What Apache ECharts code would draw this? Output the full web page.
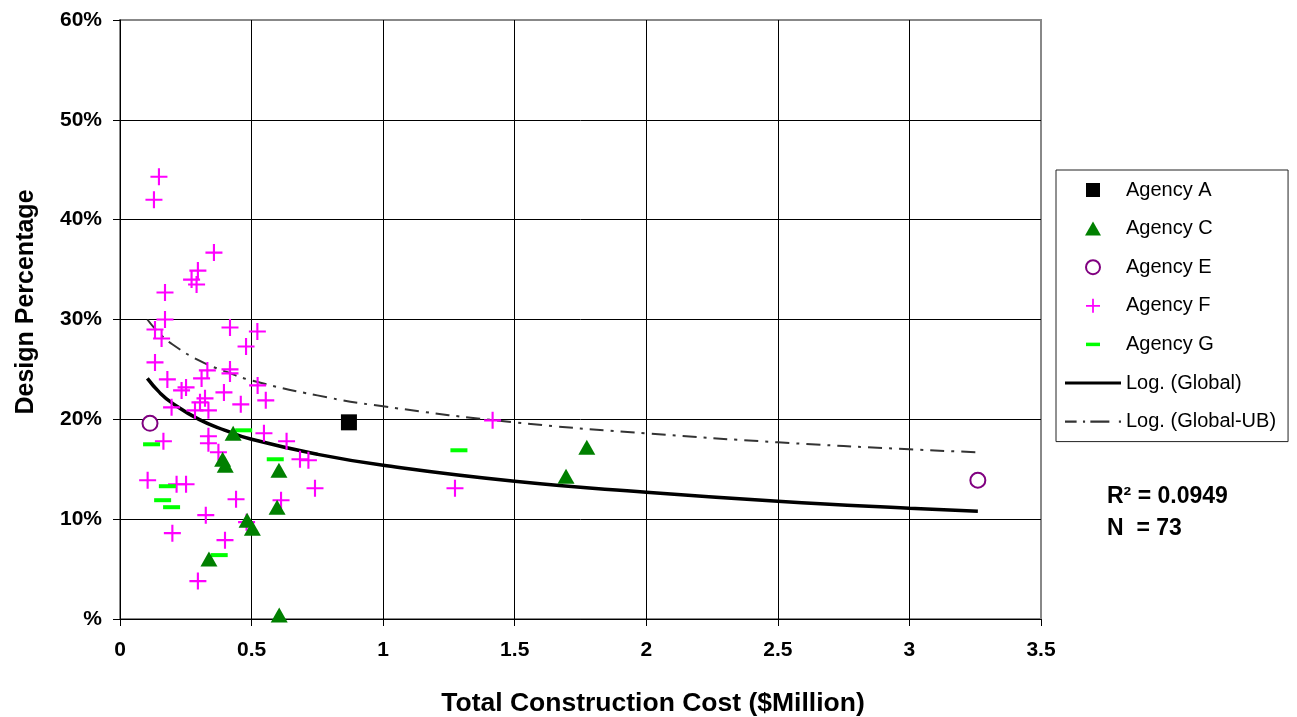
<!DOCTYPE html>
<html>
<head>
<meta charset="utf-8">
<script src="https://cdn.jsdelivr.net/npm/echarts@6/dist/echarts.min.js"></script>
<style>
html,body{margin:0;padding:0;background:#fff;}
#chart{width:1297px;height:717px;}
</style>
</head>
<body>
<div id="chart"></div>
<script>
// ---- data (x: Total Construction Cost $Million, y: Design %) ----
const xTicks = [0, 0.5, 1, 1.5, 2, 2.5, 3, 3.5];
const yTicks = [0, 10, 20, 30, 40, 50, 60];

const agencyA = [[0.87, 19.7]];
const agencyC = [[0.338, 6.0], [0.43, 18.6], [0.39, 16.0], [0.40, 15.4], [0.604, 14.9], [0.597, 11.2],
  [0.483, 9.9], [0.503, 9.1], [0.605, 0.4], [1.695, 14.3], [1.774, 17.2]];
const agencyE = [[0.114, 19.6], [3.26, 13.9]];
const agencyF = [[0.148, 44.3], [0.129, 42.0], [0.357, 36.7], [0.296, 34.9], [0.272, 34.0], [0.291, 33.5],
  [0.171, 32.7], [0.171, 30.0], [0.133, 29.0], [0.158, 28.1], [0.418, 29.2], [0.522, 28.8],
  [0.479, 27.3], [0.133, 25.7], [0.332, 24.9], [0.31, 24.1], [0.418, 25.0], [0.418, 24.6],
  [0.18, 24.0], [0.523, 23.4], [0.251, 23.2], [0.234, 22.9], [0.395, 22.7], [0.554, 21.9],
  [0.459, 21.5], [0.323, 22.1], [0.304, 21.7], [0.196, 21.2], [0.285, 20.9], [0.336, 20.9],
  [0.165, 17.8], [0.336, 18.3], [0.336, 17.6], [0.547, 18.6], [0.633, 17.8], [0.374, 16.7],
  [0.684, 16.0], [0.716, 15.9], [0.105, 13.9], [0.215, 13.5], [0.251, 13.5], [0.441, 12.0],
  [0.612, 11.9], [0.741, 13.1], [0.326, 10.4], [0.481, 9.7], [0.199, 8.6], [0.399, 7.9],
  [0.296, 3.8], [1.273, 13.1], [1.416, 19.9]];
const agencyG = [[0.12, 17.5], [0.18, 13.3], [0.162, 11.9], [0.196, 11.2], [0.377, 6.4], [0.59, 16.0],
  [0.47, 18.9], [1.288, 16.9]];

// trend lines
const logGlobal = [[0.104, 24.1], [0.15, 22.7], [0.2, 21.6], [0.3, 20.0], [0.4, 18.9], [0.5, 18.0],
  [0.75, 16.5], [1, 15.4], [1.5, 13.8], [2, 12.7], [2.5, 11.8], [3, 11.1], [3.26, 10.8]];
const logGlobalUB = [[0.104, 30.0], [0.15, 28.6], [0.2, 27.5], [0.3, 25.9], [0.4, 24.8], [0.5, 23.9],
  [0.75, 22.4], [1, 21.3], [1.5, 19.7], [2, 18.6], [2.5, 17.7], [3, 17.0], [3.26, 16.7]];

const statsLines = ['R\u00B2 = 0.0949', 'N  = 73'];

// ---- chart ----
const FONT = '"Liberation Sans", Arial, Helvetica, sans-serif';
const PLUS = 'path://M7,0H9V7H16V9H9V16H7V9H0V7H7Z';
const chart = echarts.init(document.getElementById('chart'), null, {renderer: 'canvas'});

chart.setOption({
  animation: false,
  backgroundColor: '#fff',
  textStyle: {fontFamily: FONT},
  grid: {left: 120, right: 256, top: 20, bottom: 98, show: true, borderColor: '#888', borderWidth: 2, backgroundColor: '#fff'},
  xAxis: {
    type: 'value', min: xTicks[0], max: xTicks[xTicks.length - 1], interval: 0.5,
    axisLine: {show: true, onZero: false, lineStyle: {color: '#000', width: 1}},
    axisTick: {show: true, inside: false, length: 7, lineStyle: {color: '#000'}},
    axisLabel: {margin: 21, fontSize: 21, fontWeight: 'bold', color: '#000', fontFamily: FONT,
      formatter: v => String(v)},
    splitLine: {show: true, lineStyle: {color: ['#000', '#000', '#000', '#000', '#000', '#000', '#000', '#888'], width: 1}}
  },
  yAxis: {
    type: 'value', min: yTicks[0], max: yTicks[yTicks.length - 1], interval: 10,
    axisLine: {show: true, onZero: false, lineStyle: {color: '#000', width: 1}},
    axisTick: {show: true, inside: false, length: 7, lineStyle: {color: '#000'}},
    axisLabel: {margin: 18, fontSize: 21, fontWeight: 'bold', color: '#000', fontFamily: FONT,
      formatter: v => v === 0 ? '%' : v + '%'},
    splitLine: {show: true, lineStyle: {color: ['#000', '#000', '#000', '#000', '#000', '#000', '#888'], width: 1}}
  },
  legend: {
    orient: 'vertical', left: 1056, top: 170,
    padding: [9, 12, 9, 9],
    backgroundColor: '#fff', borderColor: '#222', borderWidth: 1, borderRadius: 0,
    itemWidth: 56, itemHeight: 14, itemGap: 16.6,
    textStyle: {fontSize: 20, color: '#000', fontFamily: FONT, lineHeight: 22},
    selectedMode: false,
    data: [
      {name: 'Agency A', icon: 'path://M0,0H14V14H0Z'},
      {name: 'Agency C', icon: 'path://M8,0L16,14H0Z'},
      {name: 'Agency E', icon: 'circle'},
      {name: 'Agency F', icon: PLUS},
      {name: 'Agency G', icon: 'path://M0,0M16,16M0,6H16V10H0Z'},
      {name: 'Log. (Global)', icon: 'path://M0,0H56V3H0Z'},
      {name: 'Log. (Global-UB)', icon: 'path://M0,0H11V2H0Z M17,0H19V2H17Z M24,0H42V2H24Z M51,0H53V2H51Z'}
    ]
  },
  series: [
    {name: 'Log. (Global-UB)', type: 'line', data: logGlobalUB, smooth: true, symbol: 'none', z: 2,
      itemStyle: {color: '#333'},
      lineStyle: {color: '#333', width: 2, type: [14, 7, 3, 7]}},
    {name: 'Log. (Global)', type: 'line', data: logGlobal, smooth: true, symbol: 'none', z: 3,
      itemStyle: {color: '#000'},
      lineStyle: {color: '#000', width: 3.5}},
    {name: 'Agency F', type: 'scatter', data: agencyF, symbol: PLUS, symbolSize: 17, z: 4,
      itemStyle: {color: '#ff00ff', opacity: 1}},
    {name: 'Agency G', type: 'scatter', data: agencyG, symbol: 'rect', symbolSize: [17, 4], z: 5,
      itemStyle: {color: '#00ff00', opacity: 1}},
    {name: 'Agency C', type: 'scatter', data: agencyC, symbol: 'triangle', symbolSize: [17, 15], z: 5,
      itemStyle: {color: '#008000', opacity: 1}},
    {name: 'Agency E', type: 'scatter', data: agencyE, symbol: 'circle', symbolSize: 15, z: 5,
      itemStyle: {color: '#fff', borderColor: '#800080', borderWidth: 2, opacity: 1}},
    {name: 'Agency A', type: 'scatter', data: agencyA, symbol: 'rect', symbolSize: 16, z: 6,
      itemStyle: {color: '#000', opacity: 1}}
  ],
  graphic: [
    {type: 'text', x: 653, y: 704, style: {text: 'Total Construction Cost ($Million)', font: 'bold 26.5px ' + FONT,
      fill: '#000', align: 'center', verticalAlign: 'middle'}},
    {type: 'text', style: {text: 'Design Percentage', font: 'bold 25px ' + FONT, fill: '#000',
      align: 'center', verticalAlign: 'middle'}, x: 26, y: 302, rotation: Math.PI / 2},
    {type: 'text', style: {text: statsLines[0], font: 'bold 23px ' + FONT, fill: '#000',
      align: 'left', verticalAlign: 'middle'}, x: 1107, y: 497},
    {type: 'text', style: {text: statsLines[1], font: 'bold 23px ' + FONT, fill: '#000',
      align: 'left', verticalAlign: 'middle'}, x: 1107, y: 529}
  ]
});
</script>
</body>
</html>
